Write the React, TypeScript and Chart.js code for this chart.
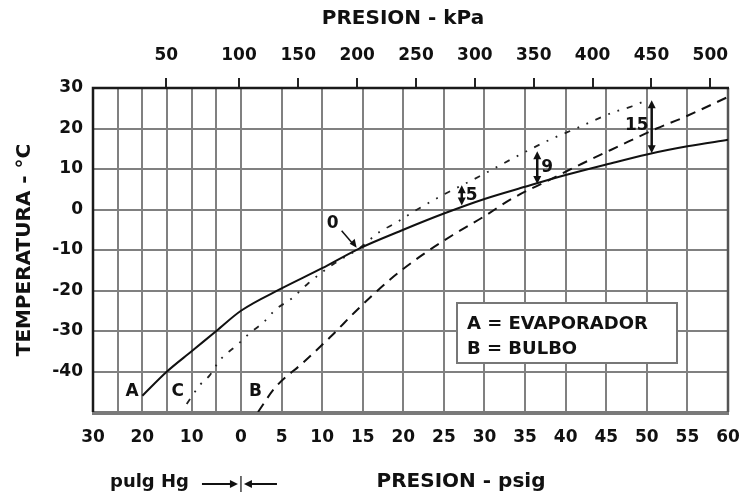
import React, { useEffect, useRef } from 'react';
import { Chart, registerables } from 'chart.js';

Chart.register(...registerables);

// ---- DATA ----
// Pressure convention: positive = psig, negative = inches Hg vacuum (pulg Hg)
const curveA_P = [-20, -15, -10, -5, 0, 5, 10, 14.5, 20, 25, 30, 35, 40, 45, 50, 55, 60];
const curveA_T = [-46, -40, -35, -30, -25, -19.5, -14.5, -9.7, -5, -1.0, 2.6, 5.6, 8.5, 11.1, 13.6, 15.6, 17.2];

const curveB_P = [2.1, 4.2, 7.6, 11, 14.3, 18.3, 22, 26.1, 29.8, 33.5, 38, 42, 46.3, 51.2, 54.5, 60];
const curveB_T = [-50, -44, -37.9, -31.5, -24.8, -17.4, -11.7, -6.3, -1.9, 2.8, 7.3, 11.3, 15.4, 20, 22.7, 27.8];

const curveC_P = [-11, -8.3, -6.3, -4.3, -0.8, 1.1, 2.7, 4.2, 6.3, 8.3, 11.6, 14.5, 17.1, 19, 21.2, 24.9, 29.4, 33.1, 37.7, 41.4, 46, 48.2, 50.2];
const curveC_T = [-48, -43.3, -40.9, -37.2, -33.5, -30.5, -28, -24.8, -21.9, -18.2, -13.2, -9.7, -5.5, -3.4, -0.6, 3.6, 8.2, 12.2, 16.9, 20.1, 24.1, 25.5, 27.2];

// bottom axis ticks (grid every 5 inHg / 5 psig)
const bottomTickP = [-30, -25, -20, -15, -10, -5, 0, 5, 10, 15, 20, 25, 30, 35, 40, 45, 50, 55, 60];
const bottomTickLabels = ['30', '', '20', '', '10', '', '0', '5', '10', '15', '20', '25', '30', '35', '40', '45', '50', '55', '60'];

// top axis (absolute kPa)
const kpaTicks = [50, 100, 150, 200, 250, 300, 350, 400, 450, 500];
const kpaLabels = ['50', '100', '150', '200', '250', '300', '350', '400', '450', '500'];

// temperature axis
const tempMin = -50;
const tempMax = 30;
const tempStep = 10;

// superheat markers
const shP = [27.2, 36.5, 50.6];
const shTop = [6.0, 14.4, 27.0];
const shBot = [1.0, 6.3, 13.9];
const shLabels = ['5', '9', '15'];
const zeroLabel = '0';
const zeroP = 14.5;
const zeroT = -9.7;

// curve end labels
const curveLabels = ['A', 'C', 'B'];
const curveLabelP = [-22.1, -12.8, 1.8];
const curveLabelT = [-45, -45, -45];

const legendLines = ['A = EVAPORADOR', 'B = BULBO'];

// ---- helpers ----
const K = 0.6076; // axis units per inch Hg of vacuum (axis unit = psig)
const toAxis = (p: number) => (p < 0 ? p * K : p);
const kpaToAxis = (kpa: number) => {
  const g = kpa - 101.325;
  if (g >= 0) return g * 0.145038;
  return -(-g * 0.2953) * K;
};
const pts = (P: number[], T: number[]) => P.map((p, i) => ({ x: toAxis(p), y: T[i] }));

const FONT = '"DejaVu Sans", sans-serif';

const overlayPlugin = {
  id: 'overlay',
  beforeDatasetsDraw(chart: any) {
    const { ctx, chartArea: a } = chart;
    ctx.save();
    ctx.lineCap = 'butt';
    ctx.strokeStyle = '#7a7a7a';
    ctx.lineWidth = 4;
    ctx.beginPath();
    ctx.moveTo(a.left - 1, a.bottom + 1);
    ctx.lineTo(a.right + 1, a.bottom + 1);
    ctx.stroke();
    ctx.strokeStyle = '#555';
    ctx.lineWidth = 2.5;
    ctx.beginPath();
    ctx.moveTo(a.right, a.top);
    ctx.lineTo(a.right, a.bottom);
    ctx.stroke();
    ctx.strokeStyle = '#1a1a1a';
    ctx.lineWidth = 2.5;
    ctx.beginPath();
    ctx.moveTo(a.left, a.bottom);
    ctx.lineTo(a.left, a.top);
    ctx.lineTo(a.right + 1, a.top);
    ctx.stroke();
    ctx.restore();
  },
  afterDatasetsDraw(chart: any) {
    const { ctx, chartArea: a } = chart;
    const xs = chart.scales.x;
    const ys = chart.scales.y;
    ctx.save();
    ctx.fillStyle = '#111';
    ctx.strokeStyle = '#111';

    // legend box
    const bx = a.left + 364, by = a.top + 215, bw = 220, bh = 60;
    ctx.fillStyle = '#fff';
    ctx.fillRect(bx, by, bw, bh);
    ctx.strokeStyle = '#777';
    ctx.lineWidth = 2;
    ctx.strokeRect(bx, by, bw, bh);
    ctx.fillStyle = '#111';
    ctx.font = `bold 18px ${FONT}`;
    ctx.textAlign = 'left';
    ctx.textBaseline = 'middle';
    legendLines.forEach((t, i) => ctx.fillText(t, bx + 10, by + 21 + i * 25));

    // curve labels
    ctx.font = `bold 17px ${FONT}`;
    ctx.textAlign = 'center';
    curveLabels.forEach((t, i) => {
      ctx.fillText(t, xs.getPixelForValue(toAxis(curveLabelP[i])), ys.getPixelForValue(curveLabelT[i]));
    });

    // superheat arrows
    const head = (x: number, y: number, dir: number) => {
      ctx.beginPath();
      ctx.moveTo(x, y);
      ctx.lineTo(x - 4, y + dir * 8);
      ctx.lineTo(x + 4, y + dir * 8);
      ctx.closePath();
      ctx.fill();
    };
    ctx.strokeStyle = '#111';
    ctx.lineWidth = 2.5;
    shP.forEach((p, i) => {
      const x = xs.getPixelForValue(toAxis(p));
      const y1 = ys.getPixelForValue(shTop[i]);
      const y2 = ys.getPixelForValue(shBot[i]);
      ctx.beginPath();
      ctx.moveTo(x, y1 + 4);
      ctx.lineTo(x, y2 - 4);
      ctx.stroke();
      head(x, y1, 1);
      head(x, y2, -1);
      ctx.font = `bold 17px ${FONT}`;
      ctx.textBaseline = 'middle';
      const lbl = shLabels[i];
      if (i === 2) {
        ctx.textAlign = 'right';
        ctx.fillText(lbl, x - 3, (y1 + y2) / 2 - 1);
      } else {
        ctx.textAlign = 'left';
        ctx.fillText(lbl, x + 4, (y1 + y2) / 2);
      }
    });

    // zero superheat pointer
    const zx = xs.getPixelForValue(toAxis(zeroP));
    const zy = ys.getPixelForValue(zeroT);
    ctx.font = `bold 17px ${FONT}`;
    ctx.textAlign = 'center';
    ctx.fillText(zeroLabel, zx - 26, zy - 25);
    ctx.lineWidth = 1.5;
    ctx.beginPath();
    ctx.moveTo(zx - 17, zy - 18);
    ctx.lineTo(zx - 5, zy - 4);
    ctx.stroke();
    ctx.beginPath();
    ctx.moveTo(zx - 2, zy - 1);
    ctx.lineTo(zx - 9, zy - 5);
    ctx.lineTo(zx - 4, zy - 10);
    ctx.closePath();
    ctx.fill();

    // bottom captions
    const x0 = xs.getPixelForValue(0);
    const yb = 484;
    ctx.font = `bold 18px ${FONT}`;
    ctx.textAlign = 'right';
    ctx.textBaseline = 'middle';
    ctx.fillText('pulg Hg', x0 - 52, yb - 2);
    ctx.lineWidth = 2;
    ctx.beginPath();
    ctx.moveTo(x0 - 39, yb);
    ctx.lineTo(x0 - 6, yb);
    ctx.moveTo(x0 + 6, yb);
    ctx.lineTo(x0 + 36, yb);
    ctx.stroke();
    ctx.beginPath();
    ctx.moveTo(x0 - 3, yb);
    ctx.lineTo(x0 - 11, yb - 4);
    ctx.lineTo(x0 - 11, yb + 4);
    ctx.closePath();
    ctx.fill();
    ctx.beginPath();
    ctx.moveTo(x0 + 3, yb);
    ctx.lineTo(x0 + 11, yb - 4);
    ctx.lineTo(x0 + 11, yb + 4);
    ctx.closePath();
    ctx.fill();
    ctx.lineWidth = 1.2;
    ctx.beginPath();
    ctx.moveTo(x0, yb - 8);
    ctx.lineTo(x0, yb + 8);
    ctx.stroke();

    ctx.font = `bold 20px ${FONT}`;
    ctx.textAlign = 'center';
    ctx.fillText('PRESION - psig', 461, yb - 2);
    ctx.fillText('PRESION - kPa', 403, 19);
    ctx.restore();
  },
};

export default function App() {
  const ref = useRef<HTMLCanvasElement>(null);
  useEffect(() => {
    const xMin = toAxis(bottomTickP[0]);
    const xMax = toAxis(bottomTickP[bottomTickP.length - 1]);
    const tickFont = { family: FONT, weight: 'bold' as const, size: 17 };
    const chart = new Chart(ref.current!, {
      type: 'scatter',
      data: {
        datasets: [
          {
            label: 'A',
            data: pts(curveA_P, curveA_T),
            showLine: true,
            borderColor: '#111',
            borderWidth: 2,
            pointRadius: 0,
            cubicInterpolationMode: 'monotone',
          },
          {
            label: 'B',
            data: pts(curveB_P, curveB_T),
            showLine: true,
            borderColor: '#111',
            borderWidth: 2,
            borderDash: [10, 7],
            pointRadius: 0,
            cubicInterpolationMode: 'monotone',
          },
          {
            label: 'C',
            data: pts(curveC_P, curveC_T),
            showLine: true,
            borderColor: '#222',
            borderWidth: 1.8,
            borderDash: [6, 8, 1.8, 8, 1.8, 8],
            pointRadius: 0,
            cubicInterpolationMode: 'monotone',
          },
        ],
      },
      options: {
        animation: false,
        responsive: false,
        devicePixelRatio: 1,
        layout: { padding: { left: 0, right: 14, top: 0, bottom: 0 } },
        plugins: { legend: { display: false }, tooltip: { enabled: false } },
        scales: {
          x: {
            type: 'linear',
            position: 'bottom',
            min: xMin,
            max: xMax,
            afterBuildTicks: (s: any) => {
              s.ticks = bottomTickP.map((p) => ({ value: toAxis(p) }));
            },
            afterFit: (s: any) => {
              s.height = 83;
              s.paddingLeft = 0;
              s.paddingRight = 0;
            },
            ticks: {
              autoSkip: false,
              maxRotation: 0,
              padding: 15,
              color: '#111',
              font: tickFont,
              callback: (_v: any, i: number) => bottomTickLabels[i],
            },
            grid: { color: '#808080', lineWidth: 2, drawTicks: false },
            border: { display: false },
          },
          x2: {
            type: 'linear',
            position: 'top',
            min: xMin,
            max: xMax,
            afterBuildTicks: (s: any) => {
              s.ticks = kpaTicks.map((k) => ({ value: kpaToAxis(k) }));
            },
            afterFit: (s: any) => {
              s.height = 88;
              s.paddingLeft = 0;
              s.paddingRight = 0;
            },
            ticks: {
              autoSkip: false,
              maxRotation: 0,
              padding: 12,
              color: '#111',
              font: tickFont,
              callback: (_v: any, i: number) => kpaLabels[i],
            },
            grid: { drawOnChartArea: false, color: '#222', lineWidth: 2, tickLength: 10 },
            border: { display: false },
          },
          y: {
            type: 'linear',
            min: tempMin,
            max: tempMax,
            afterFit: (s: any) => {
              s.width = 93;
              s.paddingTop = 0;
              s.paddingBottom = 0;
            },
            ticks: {
              stepSize: tempStep,
              padding: 10,
              color: '#111',
              font: tickFont,
              callback: (v: any) => (v === tempMin ? '' : String(v)),
            },
            grid: { color: '#808080', lineWidth: 2, drawTicks: false },
            border: { display: false },
            title: {
              display: true,
              text: 'TEMPERATURA - °C',
              color: '#111',
              font: { family: FONT, weight: 'bold', size: 20 },
              padding: { top: 13, bottom: 0 },
            },
          },
        },
      },
      plugins: [overlayPlugin],
    });
    return () => chart.destroy();
  }, []);
  return (
    <div style={{ position: 'absolute', left: 0, top: 0, width: 742, height: 495, background: '#fff' }}>
      <canvas ref={ref} width={742} height={495} />
    </div>
  );
}
